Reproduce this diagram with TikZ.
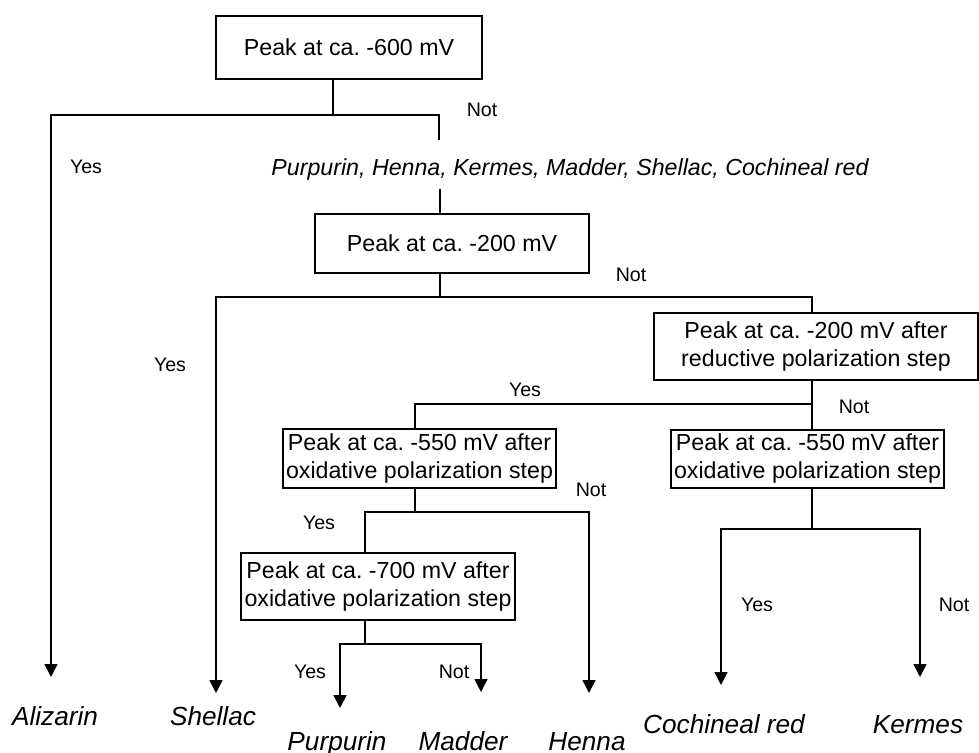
\documentclass[tikz,border=0pt]{standalone}
\usepackage{fontspec}
\setmainfont{Liberation Sans}
\frenchspacing
\usetikzlibrary{arrows.meta,positioning,calc}
\tikzset{
  blk/.style={draw,rectangle,line width=0.8pt,inner sep=1pt,align=center,font=\fontsize{11.6}{14}\selectfont},
  lnk/.style={line width=0.8pt},
  arr/.style={lnk,-{Triangle[width=6.5pt,length=6.5pt]}},
  lbl/.style={font=\fontsize{9.8}{11}\selectfont,inner sep=0pt},
  dye/.style={font=\fontsize{13.1}{15}\selectfont\itshape,inner sep=0pt,anchor=base},
  lst/.style={font=\fontsize{11.6}{14}\selectfont\itshape,inner sep=0pt,anchor=base}
}

\begin{document}
\begin{tikzpicture}[x=0.5pt,y=-0.5pt]
  \useasboundingbox (0,0) rectangle (979,753);

  % Decision boxes
  \node[blk,minimum width=133pt,minimum height=31.5pt] (p600) at (349,47.5) {Peak at ca. -600 mV};
  \node[lst] (cand) at (570,176) {Purpurin, Henna, Kermes, Madder, Shellac, Cochineal red};
  \node[blk,minimum width=137pt,minimum height=29.5pt] (p200) at (452,243.5) {Peak at ca. -200 mV};
  \node[blk,minimum width=162pt,minimum height=33.5pt] (p200r) at (816,346.5) {Peak at ca. -200 mV after\\reductive polarization step};
  \node[blk,minimum width=136.5pt,minimum height=29.5pt] (p550l) at (419.5,458.5) {Peak at ca. -550 mV after\\oxidative polarization step};
  \node[blk,minimum width=136.5pt,minimum height=29pt] (p550r) at (807.5,459) {Peak at ca. -550 mV after\\oxidative polarization step};
  \node[blk,minimum width=137pt,minimum height=33.5pt] (p700) at (378,586.5) {Peak at ca. -700 mV after\\oxidative polarization step};

  % Junctions and arrow tips
  \coordinate (j1) at (333,115);
  \coordinate (nEnd) at (439,140);
  \coordinate (c1) at (440,189);
  \coordinate (j2) at (440,297);
  \coordinate (j3) at (812,404);
  \coordinate (j4) at (415,512);
  \coordinate (j5) at (365,644);
  \coordinate (j6) at (812,529);
  \coordinate (tAliz) at (51,677);
  \coordinate (tShel) at (216,693);
  \coordinate (tHen) at (589,693);
  \coordinate (tPur) at (340,708);
  \coordinate (tMad) at (481,692);
  \coordinate (tCoc) at (721,685);
  \coordinate (tKer) at (920,677);

  % Connections
  \draw[lnk] (j1 |- p600.south) -- (j1);
  \draw[arr] (j1) -| (tAliz);
  \draw[lnk] (j1) -| (nEnd);
  \draw[lnk] (c1) -- (c1 |- p200.north);
  \draw[lnk] (j2 |- p200.south) -- (j2);
  \draw[arr] (j2) -| (tShel);
  \draw[lnk] (j2) -| (j3 |- p200r.north);
  \draw[lnk] (j3 |- p200r.south) -- (j3) -- (j3 |- p550r.north);
  \draw[lnk] (j3) -| (j4 |- p550l.north);
  \draw[lnk] (j4 |- p550l.south) -- (j4);
  \draw[lnk] (j4) -| (j5 |- p700.north);
  \draw[arr] (j4) -| (tHen);
  \draw[lnk] (j5 |- p700.south) -- (j5);
  \draw[arr] (j5) -| (tPur);
  \draw[arr] (j5) -| (tMad);
  \draw[lnk] (j6 |- p550r.south) -- (j6);
  \draw[arr] (j6) -| (tCoc);
  \draw[arr] (j6) -| (tKer);

  % Yes / Not labels
  \node[lbl] (n1) at (482,110) {Not};
  \node[lbl] (y1) at (86,167) {Yes};
  \node[lbl] (n2) at (631,275) {Not};
  \node[lbl] (y2) at (170,365) {Yes};
  \node[lbl] (y3) at (525,390) {Yes};
  \node[lbl] (n3) at (854,407) {Not};
  \node[lbl] (n4) at (591,490) {Not};
  \node[lbl] (y4) at (319,523) {Yes};
  \node[lbl] (y5) at (310,672) {Yes};
  \node[lbl] (n5) at (454,672) {Not};
  \node[lbl] (y6) at (757,605) {Yes};
  \node[lbl] (n6) at (954,605) {Not};

  % Dyes
  \node[dye] (aliz) at (55,725) {Alizarin};
  \node[dye] (shel) at (213,725) {Shellac};
  \node[dye] (purp) at (337,750) {Purpurin};
  \node[dye] (madd) at (463,750) {Madder};
  \node[dye] (henn) at (587,750) {Henna};
  \node[dye] (coch) at (724,733) {Cochineal red};
  \node[dye] (kerm) at (918,733) {Kermes};
\end{tikzpicture}
\end{document}
